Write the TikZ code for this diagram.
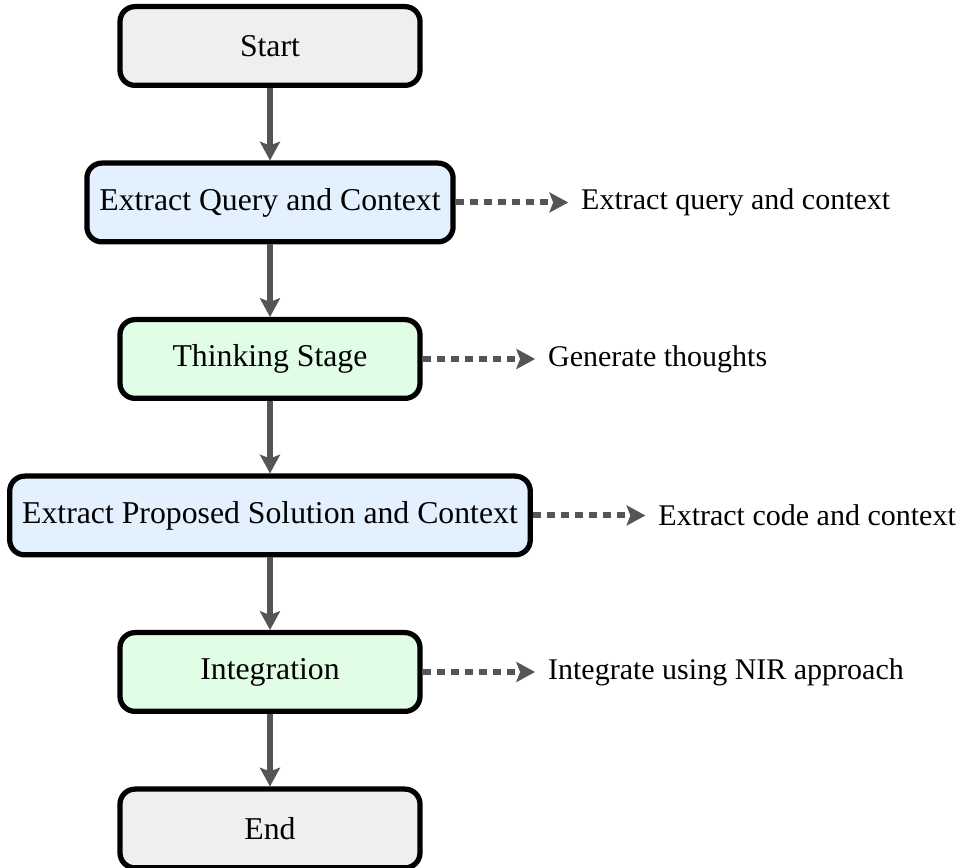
\documentclass[tikz,border=0pt]{standalone}
\usepackage{fontspec}
\setmainfont{Liberation Serif}
\usetikzlibrary{arrows.meta,calc}

\definecolor{flowgray}{RGB}{85,85,85}
\definecolor{termfill}{RGB}{239,239,239}
\definecolor{extractfill}{RGB}{227,240,253}
\definecolor{processfill}{RGB}{226,253,230}

\tikzset{
  stagebox/.style={draw=black, line width=2.1pt, rounded corners=6pt,
    minimum width=120pt, minimum height=31.5pt, inner xsep=5pt,
    font=\fontsize{12.7}{15}\selectfont, align=center},
  terminal/.style={stagebox, fill=termfill},
  extractbox/.style={stagebox, fill=extractfill},
  processbox/.style={stagebox, fill=processfill},
  flow/.style={draw=flowgray, line width=2.1pt,
    -{Stealth[length=7.5pt,width=8pt,inset=1.5pt]}},
  sidenote/.style={draw=flowgray, line width=2.4pt, dash pattern=on 3.2pt off 2.4pt,
    -{Stealth[length=7.5pt,width=8pt,inset=1.5pt]}},
  notetext/.style={anchor=west, inner xsep=5pt, inner ysep=2pt,
    font=\fontsize{12}{14}\selectfont}
}

\begin{document}
\begin{tikzpicture}[x=1pt,y=1pt]
  \useasboundingbox (0,0) rectangle (383.6,-347.2);

  % main flow
  \node[terminal]   (start)  at (108,-18.4)  {Start};
  \node[extractbox] (query)  at (108,-81.0)  {Extract Query and Context};
  \node[processbox] (think)  at (108,-143.6) {Thinking Stage};
  \node[extractbox] (sol)    at (108,-206.2) {Extract Proposed Solution and Context};
  \node[processbox] (integ)  at (108,-268.8) {Integration};
  \node[terminal]   (finish) at (108,-331.4) {End};

  \draw[flow] (start) -- (query);
  \draw[flow] (query) -- (think);
  \draw[flow] (think) -- (sol);
  \draw[flow] (sol) -- (integ);
  \draw[flow] (integ) -- (finish);

  % side annotations
  \node[notetext] (nquery) at ($(query.east)+(45,0)$) {Extract query and context};
  \node[notetext] (nthink) at ($(think.east)+(45,0)$) {Generate thoughts};
  \node[notetext] (nsol)   at ($(sol.east)+(45,0)$)   {Extract code and context};
  \node[notetext] (ninteg) at ($(integ.east)+(45,0)$) {Integrate using NIR approach};

  \draw[sidenote] (query.east) -- (nquery.west);
  \draw[sidenote] (think.east) -- (nthink.west);
  \draw[sidenote] (sol.east)   -- (nsol.west);
  \draw[sidenote] (integ.east) -- (ninteg.west);
\end{tikzpicture}
\end{document}
